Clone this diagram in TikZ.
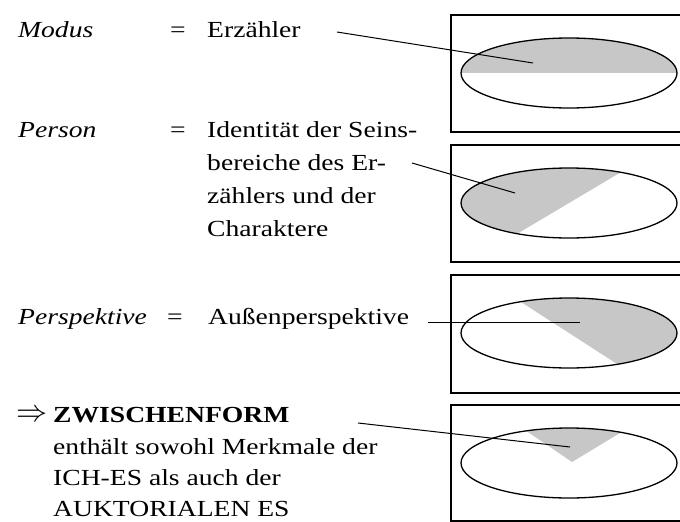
\documentclass[tikz,border=0pt]{standalone}
\usepackage{fontspec}
\usepackage{graphicx}
\setmainfont{Liberation Serif}[FakeStretch=1.2]
\begin{document}
\begin{tikzpicture}[x=1pt,y=-1pt,
  txt/.style={inner sep=0pt, anchor=base west, font=\fontsize{23}{33}\selectfont},
  frame/.style={draw, line width=1.3pt},
  ell/.style={draw, line width=1.3pt},
  link/.style={draw, line width=1pt},
  grayfill/.style={fill=black!22}]
\useasboundingbox (0,0) rectangle (680,522);
\clip (0,0) rectangle (680,522);

% frames
\draw[frame] (451,15) rectangle (700,132);
\draw[frame] (451,145) rectangle (700,262);
\draw[frame] (451,275) rectangle (700,393);
\draw[frame] (451,405) rectangle (700,521);

% ellipse 1: upper half shaded
\begin{scope}
  \clip (569,73) ellipse [x radius=108pt, y radius=35pt];
  \fill[grayfill] (440,20) rectangle (690,73);
\end{scope}
\draw[ell] (569,73) ellipse [x radius=108pt, y radius=35pt];

% ellipse 2: left part shaded
\begin{scope}
  \clip (569,203) ellipse [x radius=108pt, y radius=35pt];
  \fill[grayfill] (761,89) -- (377,317) -- (300,317) -- (300,89) -- cycle;
\end{scope}
\draw[ell] (569,203) ellipse [x radius=108pt, y radius=35pt];

% ellipse 3: right part shaded
\begin{scope}
  \clip (569,333) ellipse [x radius=108pt, y radius=35pt];
  \fill[grayfill] (383,213) -- (755,453) -- (755,213) -- cycle;
\end{scope}
\draw[ell] (569,333) ellipse [x radius=108pt, y radius=35pt];

% ellipse 4: wedge shaded
\begin{scope}
  \clip (569,463) ellipse [x radius=108pt, y radius=35pt];
  \fill[grayfill] (572,462) -- (431,366) -- (716,375) -- cycle;
\end{scope}
\draw[ell] (569,463) ellipse [x radius=108pt, y radius=35pt];

% texts
\node[txt] (modus) at (18,37) {\itshape Modus};
\node[txt] (eq1) at (170,37) {=};
\node[txt] (erz) at (207,37) {Erzähler};
\node[txt] (person) at (18,137) {\itshape Person};
\node[txt] (eq2) at (170,137) {=};
\node[txt] (p1) at (207,137) {Identität der Seins-};
\node[txt] (p2) at (207,170) {bereiche des Er-};
\node[txt] (p3) at (207,203) {zählers und der};
\node[txt] (p4) at (207,236) {Charaktere};
\node[txt] (persp) at (18,324) {\itshape Perspektive};
\node[txt] (eq3) at (167,324) {=};
\node[txt] (aussen) at (208,324) {Außenperspektive};
\node[txt] (arrow) at (16,421) {\scalebox{1.25}{$\Rightarrow$}};
\node[txt] (zw) at (53,422) {\bfseries ZWISCHENFORM};
\node[txt] (z1) at (53,454) {enthält sowohl Merkmale der};
\node[txt] (z2) at (53,485) {ICH-ES als auch der};
\node[txt] (z3) at (53,516) {AUKTORIALEN ES};

% connectors
\coordinate (s1) at (337,32);  \coordinate (e1) at (533,63);
\coordinate (s2) at (412,163); \coordinate (e2) at (515,193);
\coordinate (s3) at (428,322); \coordinate (e3) at (580,322);
\coordinate (s4) at (358,423); \coordinate (e4) at (570,447);
\draw[link] (s1) -- (e1);
\draw[link] (s2) -- (e2);
\draw[link] (s3) -- (e3);
\draw[link] (s4) -- (e4);
\end{tikzpicture}
\end{document}
